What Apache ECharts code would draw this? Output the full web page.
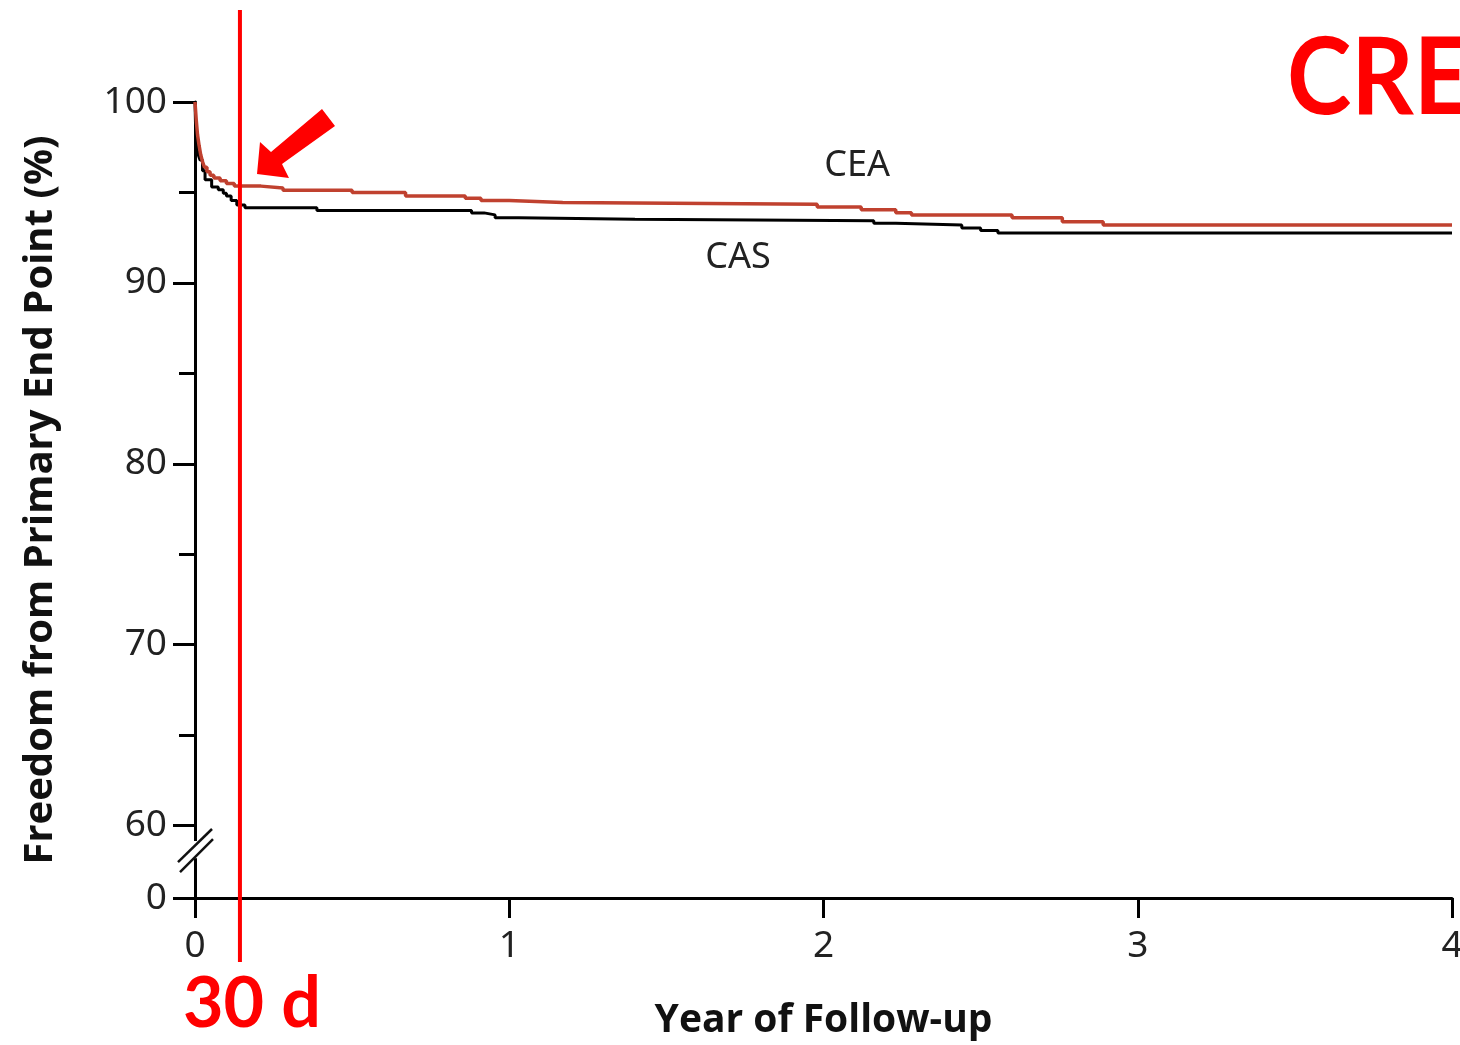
<!DOCTYPE html>
<html>
<head>
<meta charset="utf-8">
<script src="https://cdn.jsdelivr.net/npm/echarts@6/dist/echarts.min.js"></script>
<style>
html,body{margin:0;padding:0;background:#fff;overflow:hidden;}
#chart{width:1460px;height:1045px;}
</style>
</head>
<body>
<div id="chart"></div>
<script>
// ---- Data (Kaplan-Meier step curves) ----
const xTicks = [0, 1, 2, 3, 4];
const yTickLabels = [0, 60, 70, 80, 90, 100];   // "0" sits at the axis break
const yMinorTicks = [65, 75, 85, 95];

const ceaTime  = [0, 0.004, 0.008, 0.013, 0.018, 0.024, 0.030, 0.038, 0.048, 0.060, 0.080, 0.100, 0.125, 0.21, 0.28, 0.50, 0.67, 0.86, 0.91, 1.00, 1.17, 1.98, 2.12, 2.23, 2.28, 2.60, 2.76, 2.89, 4.0];
const ceaValue = [100, 99.0, 98.2, 97.6, 97.1, 96.7, 96.4, 96.15, 95.95, 95.8, 95.65, 95.5, 95.35, 95.25, 95.12, 95.0, 94.8, 94.68, 94.55, 94.45, 94.35, 94.2, 94.05, 93.88, 93.75, 93.6, 93.38, 93.2, 93.2];

const casTime  = [0, 0.002, 0.005, 0.010, 0.016, 0.024, 0.032, 0.053, 0.074, 0.090, 0.100, 0.115, 0.133, 0.159, 0.388, 0.88, 0.92, 0.955, 1.03, 1.40, 2.16, 2.23, 2.44, 2.50, 2.555, 4.0];
const casValue = [100, 98.5, 97.5, 97.1, 96.8, 96.2, 95.7, 95.3, 95.15, 94.95, 94.8, 94.55, 94.3, 94.15, 94.0, 93.87, 93.76, 93.6, 93.52, 93.43, 93.3, 93.2, 93.04, 92.9, 92.76, 92.76];

const seriesNames = ['CEA', 'CAS'];
const cutoffYears = 0.143;   // the red "30 d" marker line

// ---- Layout constants ----
const AXIS_MIN = 56;   // bottom of the broken axis, labelled "0"
const AXIS_MAX = 100;
const CEA_LABEL_AT = [2.107, 96.5];
const CAS_LABEL_AT = [1.728, 91.4];

const toPairs = (t, v) => t.map((x, i) => [x, v[i]]);
const tickFont = 'Noto Sans';

const chart = echarts.init(document.getElementById('chart'), null, {renderer: 'canvas', width: 1460, height: 1045});

const option = {
  animation: false,
  backgroundColor: '#ffffff',
  grid: {left: 195, right: 8, top: 102, bottom: 147, containLabel: false, outerBoundsMode: 'none'},
  xAxis: {
    type: 'value', min: 0, max: 4, interval: 1,
    name: 'Year of Follow-up', nameLocation: 'middle', nameGap: 103,
    nameTextStyle: {fontFamily: 'Open Sans', fontWeight: 'bold', fontSize: 39, color: '#111'},
    axisLine: {show: true, onZero: false, lineStyle: {color: '#000', width: 3}},
    axisTick: {show: true, inside: false, length: 20, lineStyle: {color: '#000', width: 3}},
    axisLabel: {show: true, margin: 30, fontFamily: tickFont, fontSize: 37, color: '#222',
      customValues: xTicks},
    splitLine: {show: false}
  },
  yAxis: [{
    type: 'value', min: AXIS_MIN, max: AXIS_MAX, position: 'left',
    name: 'Freedom from Primary End Point (%)', nameLocation: 'middle', nameGap: 134,
    nameTextStyle: {fontFamily: 'Open Sans', fontWeight: 'bold', fontSize: 40, color: '#111'},
    axisLine: {show: true, onZero: false, lineStyle: {color: '#000', width: 3}},
    axisTick: {show: true, inside: false, length: 22, lineStyle: {color: '#000', width: 3},
      customValues: yTickLabels.map(v => v === 0 ? AXIS_MIN : v)},
    axisLabel: {show: true, margin: 28, fontFamily: tickFont, fontSize: 37, color: '#222',
      customValues: yTickLabels.map(v => v === 0 ? AXIS_MIN : v),
      formatter: v => (v === AXIS_MIN ? '0' : String(v))},
    splitLine: {show: false}
  }, {
    type: 'value', min: AXIS_MIN, max: AXIS_MAX, position: 'left',
    axisLine: {show: false},
    axisTick: {show: true, inside: false, length: 16, lineStyle: {color: '#000', width: 3},
      customValues: yMinorTicks},
    axisLabel: {show: false},
    splitLine: {show: false}
  }],
  series: [{
    name: seriesNames[0], type: 'line', step: 'end', showSymbol: false, symbol: 'none',
    data: toPairs(ceaTime, ceaValue),
    lineStyle: {color: '#c0412f', width: 3.5}, z: 3,
    markPoint: {
      symbol: 'circle', symbolSize: 0, silent: true,
      label: {show: true, position: 'inside', formatter: seriesNames[0], fontFamily: tickFont, fontSize: 36, color: '#222'},
      data: [{coord: CEA_LABEL_AT}]
    }
  }, {
    name: seriesNames[1], type: 'line', step: 'end', showSymbol: false, symbol: 'none',
    data: toPairs(casTime, casValue),
    lineStyle: {color: '#000000', width: 3}, z: 2,
    markPoint: {
      symbol: 'circle', symbolSize: 0, silent: true,
      label: {show: true, position: 'inside', formatter: seriesNames[1], fontFamily: tickFont, fontSize: 36, color: '#222'},
      data: [{coord: CAS_LABEL_AT}]
    }
  }]
};
chart.setOption(option);

// ---- Annotations (axis break, 30-day marker, arrow, texts) ----
function px(x, y) { return chart.convertToPixel({xAxisIndex: 0, yAxisIndex: 0}, [x, y]); }
const axisX = px(0, AXIS_MIN)[0];
const gapTop = px(0, 59.15)[1];
const gapBot = px(0, 58.2)[1];
const cutX = px(cutoffYears, AXIS_MIN)[0];

chart.setOption({
  graphic: [
    // white gap in the y axis line
    {type: 'rect', z: 50, shape: {x: axisX - 4, y: gapTop, width: 8, height: gapBot - gapTop},
      style: {fill: '#ffffff'}},
    // break slashes
    {type: 'line', z: 51, shape: {x1: axisX - 17, y1: gapBot + 4, x2: axisX + 17, y2: gapTop - 12},
      style: {stroke: '#111', lineWidth: 2.5}},
    {type: 'line', z: 51, shape: {x1: axisX - 15, y1: gapBot + 14, x2: axisX + 18, y2: gapTop - 2},
      style: {stroke: '#111', lineWidth: 2.5}},
    // red 30-day line
    {type: 'line', z: 60, shape: {x1: cutX, y1: 10, x2: cutX, y2: 962},
      style: {stroke: '#ff0000', lineWidth: 4}},
    // red arrow
    {type: 'polygon', z: 60, shape: {points: [[257, 174], [260, 142], [271, 152], [322, 109], [335, 126], [282, 164], [289, 178]]},
      style: {fill: '#ff0000'}},
    // "30 d"
    {type: 'text', z: 60, x: 183, y: 969,
      style: {text: '30 d', fill: '#ff0000', font: 'bold 70px Lato'}},
    // "CRE"
    {type: 'text', z: 60, x: 1287, y: 25, scaleX: 0.9,
      style: {text: 'CRE', fill: '#ff0000', font: 'bold 108px Lato'}}
  ]
});
</script>
</body>
</html>
